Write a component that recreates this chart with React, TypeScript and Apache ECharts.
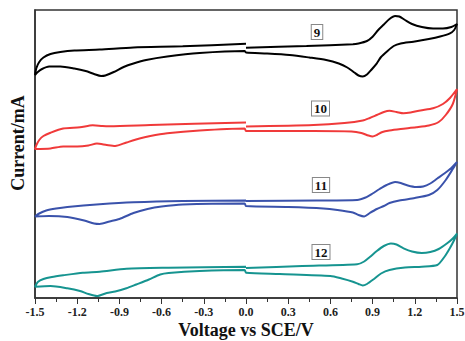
import React, { useEffect, useRef } from "react";
import * as echarts from "echarts";

// Voltage ticks (V vs SCE)
const xMin = -1.5;
const xMax = 1.5;
const xStep = 0.3;

// Curve labels
const curveNames = ["9", "10", "11", "12"];
const curveColors = ["#000000", "#f03a3a", "#3a52ab", "#169490"];

// Compound 9 : potential (V) and current (mA, offset for display), in scan order
const v9 = [0.0, 0.43, 0.76, 0.8, 0.86, 0.9, 0.94, 0.98, 1.02, 1.06, 1.09, 1.13, 1.18, 1.25, 1.33, 1.4, 1.46, 1.5,
  1.48, 1.45, 1.38, 1.3, 1.19, 1.1, 1.05, 1.0, 0.96, 0.93, 0.89, 0.86, 0.83, 0.8, 0.77, 0.72, 0.66, 0.57, 0.45, 0.31, 0.15, 0.0,
  -0.01, -0.33, -0.56, -0.71, -0.8, -0.87, -0.94, -1.0, -1.03, -1.08, -1.14, -1.22, -1.32, -1.4, -1.45, -1.48, -1.5,
  -1.49, -1.47, -1.44, -1.39, -1.32, -1.22, -1.04, -0.8, -0.45, 0.0];
const i9 = [2.503, 2.52, 2.537, 2.545, 2.57, 2.613, 2.68, 2.735, 2.79, 2.82, 2.815, 2.78, 2.74, 2.71, 2.695, 2.695, 2.71, 2.74,
  2.68, 2.647, 2.615, 2.59, 2.563, 2.545, 2.52, 2.463, 2.41, 2.347, 2.28, 2.235, 2.215, 2.225, 2.255, 2.305, 2.345, 2.38, 2.405, 2.43, 2.445, 2.455,
  2.47, 2.45, 2.415, 2.38, 2.345, 2.31, 2.26, 2.225, 2.22, 2.24, 2.27, 2.295, 2.315, 2.315, 2.29, 2.26, 2.23,
  2.3, 2.36, 2.405, 2.44, 2.46, 2.475, 2.485, 2.505, 2.517, 2.543];

// Compound 10
const v10 = [0.0, 0.48, 0.7, 0.83, 0.88, 0.93, 0.98, 1.02, 1.07, 1.12, 1.17, 1.24, 1.33, 1.4, 1.45, 1.5,
  1.47, 1.42, 1.37, 1.3, 1.21, 1.1, 1.02, 0.97, 0.93, 0.9, 0.87, 0.82, 0.75, 0.48, 0.0,
  -0.01, -0.33, -0.56, -0.68, -0.75, -0.85, -0.93, -0.99, -1.06, -1.12, -1.2, -1.3, -1.39, -1.5,
  -1.49, -1.47, -1.44, -1.39, -1.3, -1.18, -1.09, -1.02, -0.97, -0.68, 0.0];
const i10 = [1.715, 1.73, 1.75, 1.775, 1.8, 1.83, 1.86, 1.872, 1.86, 1.847, 1.855, 1.875, 1.897, 1.94, 2.0, 2.09,
  1.94, 1.83, 1.76, 1.725, 1.707, 1.69, 1.675, 1.66, 1.63, 1.615, 1.625, 1.65, 1.665, 1.67, 1.67,
  1.695, 1.675, 1.647, 1.62, 1.597, 1.555, 1.52, 1.53, 1.545, 1.525, 1.515, 1.515, 1.495, 1.49,
  1.53, 1.58, 1.62, 1.653, 1.695, 1.707, 1.727, 1.72, 1.718, 1.73, 1.755];

// Compound 11
const v11 = [0.0, 0.5, 0.79, 0.85, 0.9, 0.95, 1.0, 1.06, 1.1, 1.15, 1.21, 1.26, 1.31, 1.36, 1.41, 1.46, 1.5,
  1.47, 1.42, 1.36, 1.3, 1.2, 1.09, 1.02, 0.98, 0.93, 0.88, 0.84, 0.8, 0.76, 0.65, 0.55, 0.3, 0.0,
  -0.01, -0.45, -0.6, -0.7, -0.8, -0.9, -0.97, -1.04, -1.08, -1.15, -1.27, -1.4, -1.5,
  -1.47, -1.42, -1.35, -1.27, -1.04, -0.8, -0.45, 0.0];
const i11 = [0.97, 0.975, 0.98, 1.005, 1.045, 1.09, 1.13, 1.16, 1.15, 1.125, 1.11, 1.115, 1.145, 1.195, 1.245, 1.3, 1.36,
  1.29, 1.18, 1.08, 1.03, 1.0, 0.975, 0.95, 0.92, 0.89, 0.85, 0.815, 0.83, 0.855, 0.88, 0.895, 0.91, 0.92,
  0.945, 0.935, 0.915, 0.89, 0.85, 0.79, 0.765, 0.74, 0.745, 0.775, 0.81, 0.82, 0.815,
  0.845, 0.875, 0.895, 0.91, 0.937, 0.957, 0.97, 0.975];

// Compound 12
const v12 = [0.0, 0.4, 0.79, 0.84, 0.88, 0.93, 0.98, 1.03, 1.07, 1.12, 1.18, 1.25, 1.31, 1.37, 1.43, 1.47, 1.5,
  1.48, 1.45, 1.41, 1.36, 1.25, 1.13, 1.02, 0.96, 0.91, 0.86, 0.83, 0.8, 0.76, 0.68, 0.6, 0.24, 0.0,
  -0.01, -0.33, -0.55, -0.61, -0.69, -0.78, -0.85, -0.93, -0.99, -1.06, -1.12, -1.18, -1.27, -1.39, -1.5,
  -1.48, -1.44, -1.38, -1.3, -1.16, -1.04, -0.85, -0.55, 0.0];
const i12 = [0.3, 0.32, 0.337, 0.365, 0.41, 0.47, 0.52, 0.545, 0.535, 0.497, 0.465, 0.45, 0.46, 0.49, 0.547, 0.595, 0.645,
  0.58, 0.5, 0.41, 0.33, 0.313, 0.305, 0.28, 0.245, 0.19, 0.14, 0.125, 0.14, 0.163, 0.195, 0.22, 0.24, 0.253,
  0.28, 0.27, 0.25, 0.235, 0.185, 0.135, 0.097, 0.065, 0.05, 0.02, 0.04, 0.07, 0.097, 0.12, 0.113,
  0.16, 0.19, 0.21, 0.227, 0.253, 0.263, 0.293, 0.303, 0.313];

const voltages = [v9, v10, v11, v12];
const currents = [i9, i10, i11, i12];

const SERIF = '"Liberation Serif", "Times New Roman", serif';

export default function App() {
  const ref = useRef<HTMLDivElement>(null);

  useEffect(() => {
    if (!ref.current) return;
    const chart = echarts.init(ref.current, undefined, { renderer: "svg" });

    const series = curveNames.map((name, k) => ({
      name,
      type: "line" as const,
      data: voltages[k].map((v, j) => [v, currents[k][j]]),
      showSymbol: false,
      smooth: 0.25,
      lineStyle: { color: curveColors[k], width: 2 },
      itemStyle: { color: curveColors[k] },
      silent: true,
    }));

    const labelPos = [
      [317, 32],
      [320.5, 108.5],
      [321, 185],
      [321, 252],
    ];

    chart.setOption({
      animation: false,
      backgroundColor: "#ffffff",
      grid: {
        left: 35,
        right: 8,
        top: 10,
        bottom: 43,
        outerBoundsMode: "none",
        containLabel: false,
        show: true,
        borderColor: "#333",
        borderWidth: 1.5,
        backgroundColor: "transparent",
      },
      xAxis: {
        type: "value",
        min: xMin,
        max: xMax,
        interval: xStep,
        name: "Voltage vs SCE/V",
        nameLocation: "middle",
        nameGap: 23,
        nameMoveOverlap: false,
        nameTextStyle: { fontFamily: SERIF, fontWeight: "bold", fontSize: 18, color: "#111" },
        axisLine: { show: true, onZero: false, lineStyle: { color: "#333", width: 1.5 } },
        axisTick: { show: true, inside: false, length: 6, lineStyle: { color: "#333", width: 1 } },
        minorTick: { show: true, splitNumber: 2, length: 4, lineStyle: { color: "#333", width: 1 } },
        splitLine: { show: false },
        axisLabel: {
          show: true,
          margin: 8,
          showMinLabel: true,
          showMaxLabel: true,
          fontFamily: SERIF,
          fontWeight: "bold",
          fontSize: 12,
          color: "#222",
          formatter: (v: number) => v.toFixed(1),
        },
      },
      yAxis: {
        type: "value",
        min: 0,
        max: 2.88,
        axisLine: { show: true, onZero: false, lineStyle: { color: "#333", width: 1.5 } },
        axisTick: { show: false },
        axisLabel: { show: false },
        splitLine: { show: false },
      },
      graphic: [
        {
          type: "text",
          x: 18,
          y: 143,
          rotation: Math.PI / 2,
          style: {
            text: "Current/mA",
            fontFamily: SERIF,
            fontWeight: "bold",
            fontSize: 18,
            fill: "#111",
            align: "center",
            verticalAlign: "middle",
          },
        },
        ...curveNames.map((name, k) => ({
          type: "text",
          x: labelPos[k][0],
          y: labelPos[k][1],
          z: 10,
          style: {
            text: name,
            fontFamily: SERIF,
            fontWeight: "bold",
            fontSize: 13,
            fill: "#111",
            align: "center",
            verticalAlign: "middle",
            backgroundColor: "#fff",
            borderColor: "#888",
            borderWidth: 1,
            padding: [1, 2, 0, 2],
          },
        })),
      ],
      series,
    });

    return () => chart.dispose();
  }, []);

  return <div ref={ref} style={{ width: 465, height: 341, position: "absolute", left: 0, top: 0 }} />;
}
